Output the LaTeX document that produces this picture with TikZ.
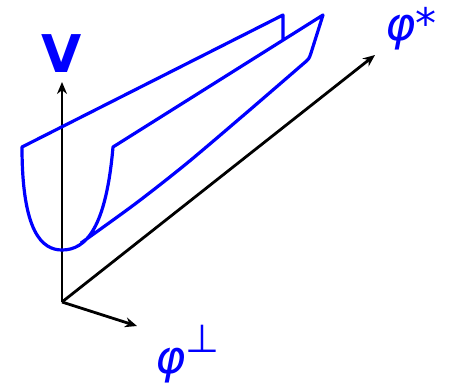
\documentclass[tikz,border=0pt]{standalone}
\usepackage{fontspec}
\setmainfont{DejaVu Sans}
\usetikzlibrary{arrows.meta}

\begin{document}
\begin{tikzpicture}[x=0.5pt, y=-0.5pt,
    axis/.style={line width=1.4pt, -{Stealth[length=6pt,width=5pt]}},
    surf/.style={line width=1.6pt, blue, line join=round},
    lab/.style={blue, inner sep=0pt}]
  \useasboundingbox (0,0) rectangle (450,386);
  % axes
  \coordinate (o) at (62,302);
  \coordinate (vend) at (62,82);
  \coordinate (send) at (375,55);
  \coordinate (pend) at (137,326);
  \draw[axis] (o) -- (vend);
  \draw[axis] (o) -- (send);
  \draw[axis] (o) -- (pend);
  % valley
  \draw[surf] (283,40) -- (283,15) -- (22,147)
    .. controls (22,232) and (42,250) .. (62,250)
    .. controls (86,250) and (106,228) .. (113,147) -- (323,15) -- (311,53)
    .. controls (309,59) .. (303,64)
    -- plot[smooth] coordinates {(303,64) (245,114) (186,164) (135,204) (81,243)};
  % labels
  \node[lab, font=\bfseries\fontsize{26}{26}\selectfont] (vlab) at (62,54) {V};
  \node[lab, anchor=base west, font=\fontsize{23}{23}\selectfont] (slab) at (385,40)
    {\itshape φ\raisebox{1pt}{\upshape\fontsize{21}{21}\selectfont *}};
  \node[lab, anchor=base west, font=\fontsize{23}{23}\selectfont] (plab) at (155,373)
    {\itshape φ\raisebox{10.5pt}{\upshape\fontsize{19.5}{19.5}\selectfont ⊥}};
\end{tikzpicture}
\end{document}
